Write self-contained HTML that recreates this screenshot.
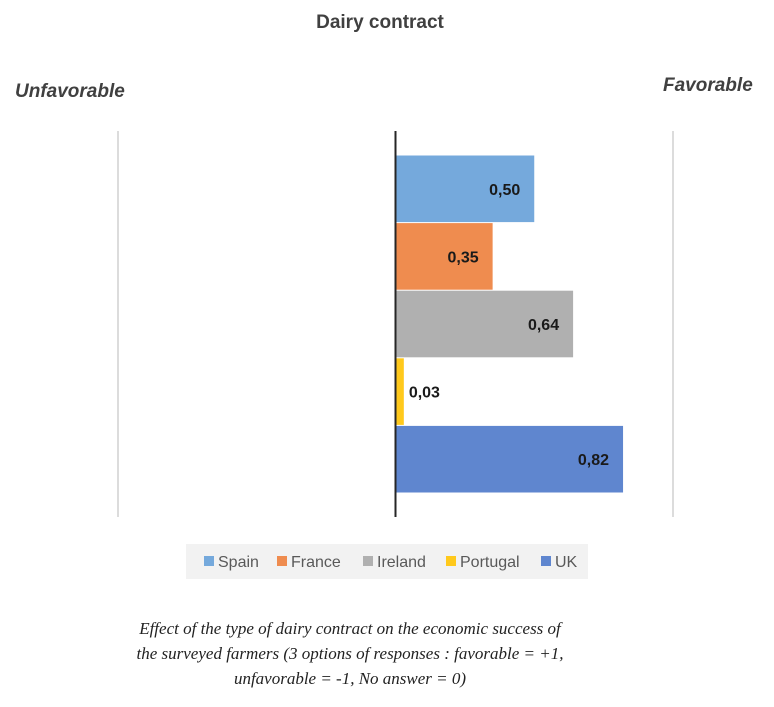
<!DOCTYPE html>
<html><head><meta charset="utf-8">
<style>
html,body{margin:0;padding:0;background:#fff;}
body{width:774px;height:707px;position:relative;overflow:hidden;font-family:"Liberation Sans",sans-serif;}
svg{position:absolute;left:0;top:0;}
</style></head>
<body>
<svg id="chart" width="774" height="707">
  <text x="380" y="28" text-anchor="middle" font-size="19" font-weight="bold" fill="#404040">Dairy contract</text>
  <text x="15" y="97" font-size="19" font-weight="bold" font-style="italic" fill="#404040">Unfavorable</text>
  <text x="663" y="91" font-size="19" font-weight="bold" font-style="italic" fill="#404040">Favorable</text>
  <g id="grid"></g>
  <g id="bars"></g>
  <rect x="186" y="544" width="402" height="35" fill="#f2f2f2"/>
  <g id="legend"></g>
  <g font-family="Liberation Serif, serif" font-style="italic" font-size="17" fill="#222" text-anchor="middle">
    <text x="350" y="634">Effect of the type of dairy contract on the economic success of</text>
    <text x="350" y="659">the surveyed  farmers (3 options of responses :  favorable = +1,</text>
    <text x="350" y="684">unfavorable = -1, No answer = 0)</text>
  </g>
</svg>
<script>
const categories = ["Spain","France","Ireland","Portugal","UK"];
const values = [0.50, 0.35, 0.64, 0.03, 0.82];
const valueLabels = ["0,50","0,35","0,64","0,03","0,82"];
const colors = ["#75a9dc","#ef8c4f","#b0b0b0","#ffc91c","#5f86cf"];
const gridTicks = [-1, 0, 1];

const NS = "http://www.w3.org/2000/svg";
const xMin=-1, xMax=1, pxMin=118, pxMax=673;
const x = v => pxMin + (v - xMin) / (xMax - xMin) * (pxMax - pxMin);
const plotTop=131, plotBottom=517, barTop=155, barBottom=493;
const band = (barBottom - barTop) / categories.length;
const y = i => barTop + i * band;

function mk(tag, attrs){const e=document.createElementNS(NS,tag);for(const k in attrs)e.setAttribute(k,attrs[k]);return e;}

const grid=document.getElementById("grid");
gridTicks.forEach(t=>{
  const l=mk("line",{x1:x(t),x2:x(t),y1:plotTop,y2:plotBottom,stroke:t===0?"#262626":"#d0d0d0","stroke-width":t===0?2:1.5});
  
  
  grid.appendChild(l);
});

const bars=document.getElementById("bars");
categories.forEach((c,i)=>{
  const x0=x(Math.min(0,values[i])), x1=x(Math.max(0,values[i]));
  const r=mk("rect",{x:x0+1,y:y(i)+0.5,width:Math.max(0,x1-x0-1),height:band-1,fill:colors[i]});
  
  
  bars.appendChild(r);
  const inside = (x1-x0) > 60;
  const t=mk("text",{x:inside? x1-14 : x1+5, y:y(i)+band/2+6,"text-anchor":inside?"end":"start","font-size":16,"font-weight":"bold",fill:"#1a1a1a"});
  t.textContent=valueLabels[i];
  
  
  bars.appendChild(t);
});
// zero line above bars
const zl=mk("line",{x1:x(0),x2:x(0),y1:plotTop,y2:plotBottom,stroke:"#262626","stroke-width":2});


bars.appendChild(zl);

const legend=document.getElementById("legend");
const legendX=[204,277,363,446,541];
categories.forEach((c,i)=>{
  const g=mk("g",{});
  
  
  g.appendChild(mk("rect",{x:legendX[i],y:556,width:10,height:10,fill:colors[i]}));
  const t=mk("text",{x:legendX[i]+14,y:567,"font-size":16,fill:"#595959"});
  t.textContent=c;
  g.appendChild(t);
  legend.appendChild(g);
});
</script>
</body></html>
